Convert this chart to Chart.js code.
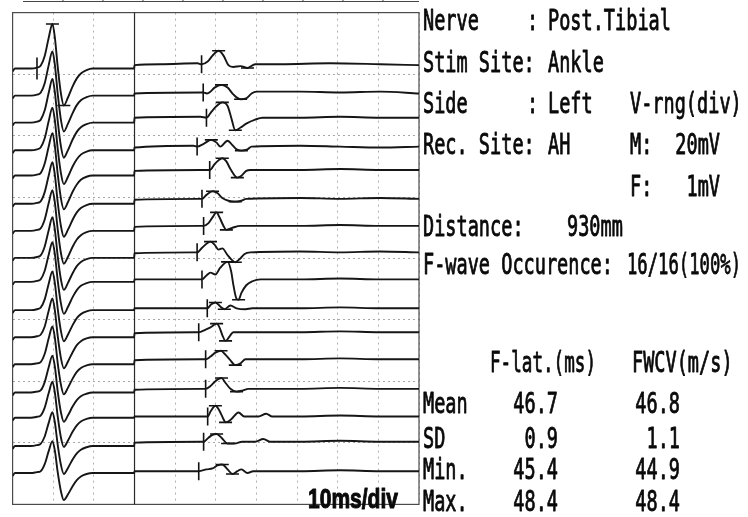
<!DOCTYPE html>
<html>
<head>
<meta charset="utf-8">
<script src="https://cdn.jsdelivr.net/npm/chart.js@4.4.1/dist/chart.umd.min.js"></script>
<style>
  html, body { margin: 0; padding: 0; background: #fff; }
  canvas { display: block; }
</style>
</head>
<body>
<canvas id="fwave" width="748" height="517"></canvas>
<script>
// time base: ms, 10 ms/div. M-wave in mV (20 mV/div), F-wave in uV (1 mV/div)
const mTimes = [0, 0.6, 4.5, 6.0, 6.9, 7.9, 8.9, 9.8, 10.4, 11.1, 11.9, 12.6, 13.6, 14.8, 15.8, 16.8, 18.2, 19.7, 29.9];

const mValues = [
  [-0.9, 0, 0, 0.3, 0.9, 4.1, 10.1, 14.5, 10.1, 0.6, -8.2, -12.0, -9.5, -5.7, -3.2, -1.6, -0.5, 0, 0],
  [-0.9, 0, 0, 0.3, 0.9, 4.0, 10.0, 14.4, 10.0, 0.6, -8.0, -11.7, -9.2, -5.6, -3.1, -1.5, -0.5, 0, 0],
  [-0.9, 0, 0, 0.3, 0.9, 4.0, 9.8, 14.2, 9.9, 0.6, -7.8, -11.4, -9.0, -5.4, -3.0, -1.5, -0.5, 0, 0],
  [-0.9, 0, 0, 0.3, 0.9, 3.9, 9.6, 13.9, 9.7, 0.5, -7.5, -11.0, -8.7, -5.2, -2.9, -1.4, -0.4, 0, 0],
  [-0.9, 0, 0, 0.3, 0.8, 3.9, 9.5, 13.8, 9.6, 0.5, -7.5, -11.0, -8.7, -5.2, -2.9, -1.4, -0.4, 0, 0],
  [-0.9, 0, 0, 0.3, 0.8, 3.8, 9.3, 13.5, 9.4, 0.5, -7.3, -10.7, -8.5, -5.1, -2.8, -1.4, -0.4, 0, 0],
  [-0.9, 0, 0, 0.3, 0.8, 3.7, 9.1, 13.2, 9.2, 0.5, -7.3, -10.7, -8.5, -5.1, -2.8, -1.4, -0.4, 0, 0],
  [-0.9, 0, 0, 0.3, 0.8, 3.7, 9.1, 13.2, 9.2, 0.5, -7.1, -10.4, -8.2, -4.9, -2.7, -1.3, -0.4, 0, 0],
  [-0.9, 0, 0, 0.3, 0.8, 3.6, 8.9, 12.9, 9.0, 0.5, -7.1, -10.4, -8.2, -4.9, -2.7, -1.3, -0.4, 0, 0],
  [-0.9, 0, 0, 0.3, 0.8, 3.5, 8.7, 12.6, 8.8, 0.5, -6.9, -10.1, -8.0, -4.8, -2.6, -1.3, -0.4, 0, 0],
  [-0.9, 0, 0, 0.3, 0.8, 3.5, 8.7, 12.6, 8.7, 0.4, -6.9, -10.1, -8.0, -4.8, -2.6, -1.3, -0.4, 0, 0],
  [-0.9, 0, 0, 0.3, 0.7, 3.4, 8.5, 12.3, 8.6, 0.4, -6.7, -9.8, -7.7, -4.6, -2.5, -1.2, -0.4, 0, 0],
  [-0.9, 0, 0, 0.3, 0.7, 3.4, 8.3, 12.0, 8.4, 0.4, -6.5, -9.5, -7.5, -4.5, -2.5, -1.2, -0.4, 0, 0],
  [-0.9, 0, 0, 0.3, 0.7, 3.3, 8.1, 11.7, 8.2, 0.4, -6.5, -9.5, -7.5, -4.5, -2.5, -1.2, -0.4, 0, 0],
  [-0.9, 0, 0, 0.3, 0.7, 3.1, 7.6, 11.0, 7.7, 0.4, -6.2, -9.1, -7.2, -4.3, -2.4, -1.2, -0.4, 0, 0],
  [-0.9, 0, 0, 0.3, 0.6, 2.9, 7.2, 10.4, 7.3, 0.3, -6.0, -8.8, -7.0, -4.2, -2.3, -1.1, -0.3, 0, 0]
];
const mOnset = 6.0;

// F-wave onset latency of each trace (ms)
const fLatency = [46.5, 46.9, 47.7, 45.4, 48.5, 46.6, 47.0, 45.4, 46.6, 47.9, 45.8, 47.5, 47.5, 48.0, 47.0, 45.8];

const fTimes = [
  [30.0, 36.4, 45.5, 46.5, 48.0, 49.2, 50.7, 51.9, 53.1, 54.3, 56.1, 57.8, 59.7, 65.9, 78.1, 90.4, 100],
  [30.0, 46.2, 46.9, 47.8, 48.7, 49.7, 51.4, 52.9, 54.3, 56.1, 57.5, 58.8, 60.0, 70.8, 80.6, 90.4, 100],
  [30.0, 46.2, 47.7, 48.9, 50.2, 51.6, 52.9, 53.8, 54.8, 56.1, 57.5, 59.7, 61.5, 70.8, 80.6, 90.4, 100],
  [30.0, 44.5, 45.4, 47.0, 48.9, 50.2, 51.1, 52.9, 53.8, 55.1, 56.3, 57.8, 58.8, 70.8, 80.6, 90.4, 100],
  [30.0, 46.2, 48.5, 49.7, 50.7, 51.6, 52.6, 53.6, 55.3, 56.3, 57.5, 58.5, 70.8, 80.6, 90.4, 100],
  [30.0, 45.7, 46.6, 47.7, 49.2, 50.4, 51.6, 53.1, 54.8, 56.3, 57.5, 70.8, 80.6, 90.4, 100],
  [30.0, 46.0, 47.0, 48.2, 49.2, 50.2, 50.9, 51.9, 52.6, 54.1, 56.1, 70.8, 80.6, 90.4, 100],
  [30.0, 44.5, 45.4, 46.7, 48.7, 49.7, 50.7, 51.6, 52.9, 54.8, 56.1, 57.0, 58.5, 70.8, 80.6, 90.4, 100],
  [30.0, 45.5, 46.6, 47.7, 48.7, 49.9, 51.1, 52.9, 53.8, 54.3, 55.1, 55.6, 56.3, 57.5, 59.0, 61.0, 70.8, 80.6, 90.4, 100],
  [30.0, 46.7, 47.9, 48.9, 49.9, 51.1, 52.1, 53.6, 55.1, 57.3, 59.0, 70.8, 80.6, 90.4, 100],
  [30.0, 45.0, 45.8, 47.5, 48.7, 50.2, 50.9, 51.6, 52.4, 53.4, 54.3, 70.8, 80.6, 90.4, 100],
  [30.0, 46.2, 47.5, 48.7, 49.9, 51.3, 52.1, 53.4, 54.8, 56.1, 57.3, 70.8, 80.6, 90.4, 100],
  [30.0, 46.2, 47.5, 48.7, 49.9, 51.4, 52.4, 53.6, 55.1, 56.5, 58.0, 70.8, 80.6, 90.4, 100],
  [30.0, 47.0, 48.0, 48.7, 49.9, 50.9, 51.9, 52.4, 53.8, 55.6, 57.0, 60.5, 62.4, 63.9, 70.8, 80.6, 90.4, 100],
  [30.0, 46.0, 47.0, 48.2, 49.2, 50.2, 51.4, 52.9, 54.6, 56.5, 59.7, 61.7, 63.4, 70.8, 80.6, 90.4, 100],
  [30.0, 45.0, 45.8, 47.7, 49.2, 50.4, 51.6, 52.9, 54.1, 55.3, 56.3, 57.8, 59.2, 70.8, 80.6, 90.4, 100]
];

const fValues = [
  [-15, 0, 15, 0, 45, 140, 220, 140, -15, -45, -30, -60, 0, 0, 15, 0, -15],
  [-15, 0, 0, -15, 15, 80, 125, 80, -30, -110, -95, -15, 15, 15, 0, 15, -15],
  [0, 15, 0, 95, 190, 250, 190, 0, -205, -160, -95, -30, 0, 0, 15, 0, 0],
  [-15, 15, 0, 45, 110, 65, 0, 95, 45, -45, -65, -45, 0, 15, 0, -15, 0],
  [-15, 0, 0, 95, 160, 190, 140, 15, -125, -95, -15, 0, 0, 15, 0, 0],
  [-15, 0, 0, 65, 125, 95, 15, -30, -45, -30, 0, 15, 0, 15, 0],
  [-15, 0, 0, 45, 140, 220, 140, 0, -65, -30, 0, 0, 15, 0, 0],
  [-15, 0, 0, 80, 175, 125, 45, 65, -45, -160, -95, -30, 0, 15, 0, 15, 0],
  [0, 0, 0, 65, 110, 80, 190, 285, 125, -80, -315, -330, -220, -95, -30, 0, 0, 15, 0, 0],
  [0, 0, 0, 65, 95, 30, -15, 45, 0, -15, 0, 0, 15, 0, 0],
  [-15, 0, 0, 45, 80, 140, 80, -45, -140, -65, 0, 0, 15, 0, 0],
  [-15, 0, 0, 45, 110, 140, 95, 0, -95, -65, 0, 0, 15, 0, 0],
  [-15, 0, 0, 45, 125, 175, 95, 0, -45, -30, 0, 0, 15, 0, 0],
  [0, 0, 0, 80, 175, 95, -45, -95, -45, 65, 0, 0, 45, 0, 0, 15, 0, 0],
  [-15, 0, 0, 65, 110, 125, 65, -30, -30, 0, 0, 45, 0, 0, 15, 0, 0],
  [0, 0, 0, 30, 45, 95, 110, 30, -45, 0, 30, -30, 0, 0, 15, 0, 0]
];

// baseline of each trace, in divisions from the bottom (left panel / right panel)
const leftBase = [7.09, 6.65, 6.21, 5.76, 5.35, 4.89, 4.45, 4.01, 3.62, 3.16, 2.72, 2.28, 1.82, 1.41, 0.95, 0.51];
const rightBase = [7.16, 6.70, 6.29, 5.82, 5.44, 4.97, 4.53, 4.10, 3.66, 3.19, 2.80, 2.36, 1.88, 1.43, 1.02, 0.54];

const mGain = 20;    // mV per div
const fGain = 1000;  // uV per div

const statNames = ['Mean', 'SD', 'Min.', 'Max.'];
const fLatStats = ['46.7', '0.9', '45.4', '48.4'];
const fwcvStats = ['46.8', '1.1', '44.9', '48.4'];

// build datasets
const datasets = [];
const bars = [];
const ticks = [];

for (let i = 0; i < mValues.length; i++) {
  const left = mTimes.map((t, k) => ({x: t, y: leftBase[i] + mValues[i][k] / mGain}));
  const right = fTimes[i].map((t, k) => ({x: t, y: rightBase[i] + fValues[i][k] / fGain}));
  datasets.push({
    type: 'line',
    data: left.concat(right),
    borderColor: '#161616',
    borderWidth: 1.9,
    pointRadius: 0,
    cubicInterpolationMode: 'monotone'
  });

  // F-wave markers: onset tick, peak and trough bars
  let hi = -Infinity, lo = Infinity, hiK = 0, loK = 0;
  fTimes[i].forEach((t, k) => {
    if (t <= fLatency[i]) return;
    if (fValues[i][k] > hi) { hi = fValues[i][k]; hiK = k; }
    if (fValues[i][k] < lo) { lo = fValues[i][k]; loK = k; }
  });
  ticks.push({x: fLatency[i], y: rightBase[i]});
  bars.push({x: fTimes[i][hiK], y: rightBase[i] + hi / fGain});
  bars.push({x: fTimes[i][loK], y: rightBase[i] + lo / fGain});
}

// M-wave markers on the first trace only
const m0 = mValues[0];
const mHi = Math.max(...m0), mLo = Math.min(...m0);
const mTick = [{x: mOnset, y: leftBase[0]}];
const mBars = [
  {x: mTimes[m0.indexOf(mHi)], y: leftBase[0] + mHi / mGain},
  {x: mTimes[m0.indexOf(mLo)], y: leftBase[0] + mLo / mGain}
];

const marker = (data, rot, r) => ({
  type: 'scatter',
  data: data,
  pointStyle: 'line',
  pointRotation: rot,
  pointRadius: r,
  pointBorderWidth: 1.6,
  borderColor: '#111',
  backgroundColor: '#111',
  showLine: false
});
datasets.push(marker(bars, 0, 6.5));
datasets.push(marker(ticks, 90, 9));
datasets.push(marker(mBars, 0, 6.5));
datasets.push(marker(mTick, 90, 11));

// frame, divider and text panel
const framePlugin = {
  id: 'frame',
  beforeDatasetsDraw(chart) {
    const {ctx, chartArea: a, scales: {x}} = chart;
    ctx.save();
    ctx.strokeStyle = '#4a4a4a';
    ctx.lineWidth = 1.2;
    ctx.strokeRect(a.left, a.top, a.right - a.left, a.bottom - a.top);
    const xd = x.getPixelForValue(30);
    ctx.strokeStyle = '#2a2a2a';
    ctx.beginPath();
    ctx.moveTo(xd, a.top);
    ctx.lineTo(xd, a.bottom);
    ctx.stroke();
    // edge of the cropped table above
    ctx.strokeStyle = '#444';
    ctx.lineWidth = 1;
    ctx.beginPath();
    ctx.moveTo(23, 1.5);
    ctx.lineTo(a.right, 1.5);
    for (let px = 63; px < a.right; px += 40) {
      ctx.moveTo(px, 0);
      ctx.lineTo(px, 1.5);
    }
    ctx.stroke();
    ctx.restore();
  },
  afterDraw(chart) {
    const ctx = chart.ctx;
    const sx = 0.64;
    ctx.save();
    ctx.fillStyle = '#0a0a0a';
    ctx.strokeStyle = '#0a0a0a';
    ctx.lineWidth = 0.9;
    ctx.lineJoin = 'round';
    ctx.font = '29px "DejaVu Sans Mono", "Liberation Mono", monospace';
    ctx.textBaseline = 'alphabetic';
    const put = (s, x, y, align, maxW) => {
      ctx.save();
      ctx.translate(x, y);
      ctx.scale(sx, 1);
      ctx.textAlign = align || 'left';
      if (maxW) {
        ctx.fillText(s, 0, 0, maxW / sx);
        ctx.strokeText(s, 0, 0, maxW / sx);
      } else {
        ctx.fillText(s, 0, 0);
        ctx.strokeText(s, 0, 0);
      }
      ctx.restore();
    };
    put('Nerve', 423, 30); put(':', 527, 30); put('Post.Tibial', 548, 30);
    put('Stim Site:', 423, 72); put('Ankle', 548, 72);
    put('Side', 423, 113); put(':', 527, 113); put('Left', 548, 113); put('V-rng(div)', 630, 113);
    put('Rec. Site:', 423, 154); put('AH', 548, 154); put('M:', 630, 154); put('20mV', 720, 154, 'right');
    put('F:', 630, 196); put('1mV', 720, 196, 'right');
    put('Distance:', 423, 236); put('930mm', 567, 236);
    put('F-wave Occurence:', 423, 274); put('16/16(100%)', 627, 274, 'left', 114);
    put('F-lat.(ms)', 490, 372, 'left', 106); put('FWCV(m/s)', 632, 372, 'left', 111);
    const rowY = [413, 448, 479, 511];
    statNames.forEach((s, k) => {
      put(s, 423, rowY[k]);
      put(fLatStats[k], 558, rowY[k], 'right');
      put(fwcvStats[k], 680, rowY[k], 'right');
    });
    // scale caption, heavy condensed sans
    ctx.font = 'bold 27px "Liberation Sans", Arial, sans-serif';
    ctx.textAlign = 'left';
    ctx.lineWidth = 1;
    ctx.fillText('10ms/div', 308, 508, 90);
    ctx.strokeText('10ms/div', 308, 508, 90);
    ctx.restore();
  }
};

new Chart(document.getElementById('fwave'), {
  data: {datasets: datasets},
  options: {
    responsive: false,
    animation: false,
    layout: {padding: {left: 11.7, right: 329, top: 4.7, bottom: 4.5}},
    plugins: {legend: {display: false}, tooltip: {enabled: false}},
    scales: {
      x: {
        type: 'linear', min: 0, max: 100,
        ticks: {display: false, stepSize: 10},
        grid: {color: '#b0b0b0', lineWidth: 1, drawTicks: false},
        border: {display: false, dash: [2, 4]},
        afterFit: s => { s.height = 0; }
      },
      y: {
        type: 'linear', min: 0, max: 8,
        ticks: {display: false, stepSize: 1},
        grid: {color: '#a8a8a8', lineWidth: 1, drawTicks: false},
        border: {display: false, dash: [2, 3]},
        afterFit: s => { s.width = 0; }
      }
    }
  },
  plugins: [framePlugin]
});
</script>
</body>
</html>
